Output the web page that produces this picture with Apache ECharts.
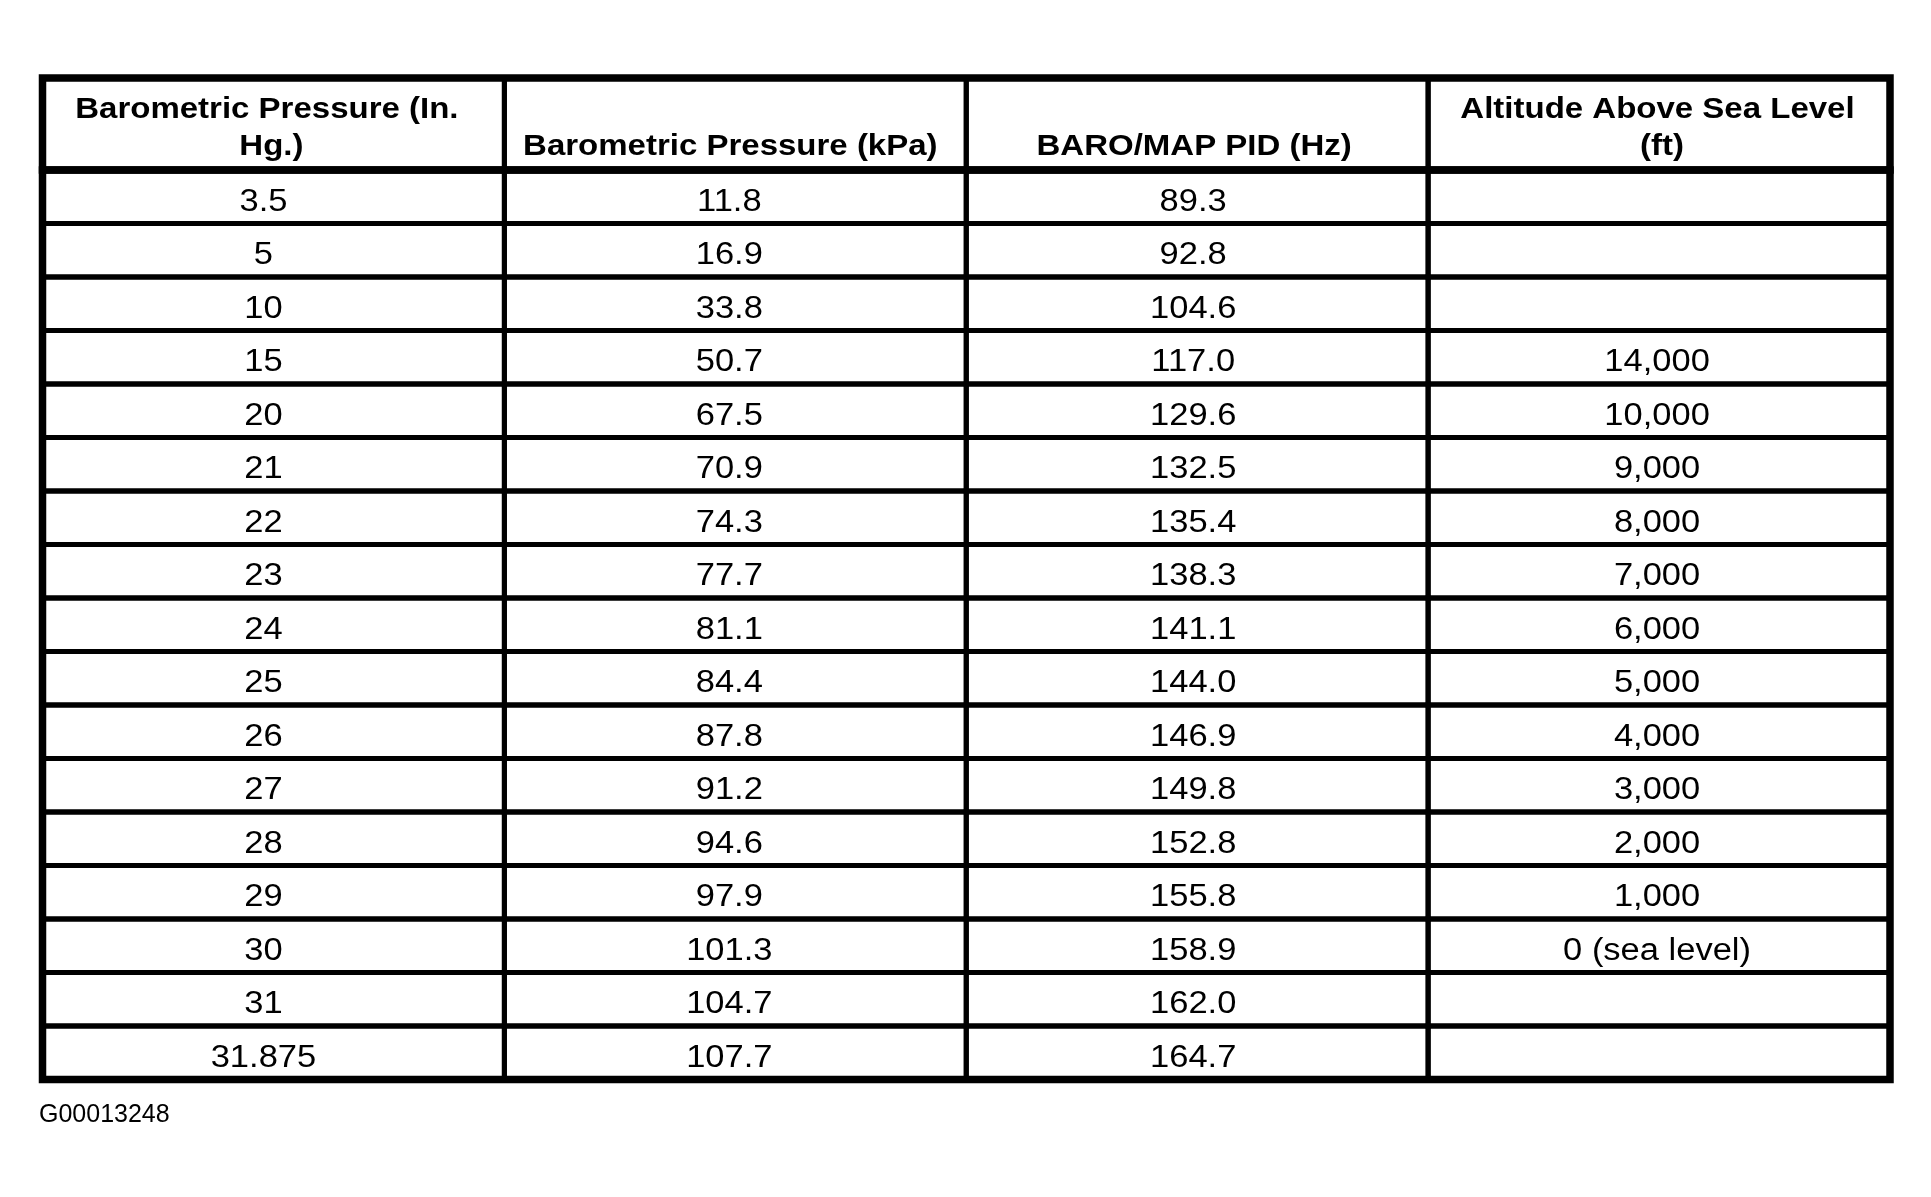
<!DOCTYPE html>
<html><head><meta charset="utf-8">
<script src="https://cdn.jsdelivr.net/npm/echarts@6/dist/echarts.min.js"></script>
<style>html,body{margin:0;padding:0;background:#fff}#c{width:1931px;height:1197px}</style>
</head><body><div id="c"></div>
<script>
// ---- data ----
const headers = ['Barometric Pressure (In. Hg.)', 'Barometric Pressure (kPa)', 'BARO/MAP PID (Hz)', 'Altitude Above Sea Level (ft)'];
const pressureInHg = ['3.5', '5', '10', '15', '20', '21', '22', '23', '24', '25', '26', '27', '28', '29', '30', '31', '31.875'];
const pressureKPa = ['11.8', '16.9', '33.8', '50.7', '67.5', '70.9', '74.3', '77.7', '81.1', '84.4', '87.8', '91.2', '94.6', '97.9', '101.3', '104.7', '107.7'];
const baroMapPidHz = ['89.3', '92.8', '104.6', '117.0', '129.6', '132.5', '135.4', '138.3', '141.1', '144.0', '146.9', '149.8', '152.8', '155.8', '158.9', '162.0', '164.7'];
const altitudeFt = ['', '', '', '14,000', '10,000', '9,000', '8,000', '7,000', '6,000', '5,000', '4,000', '3,000', '2,000', '1,000', '0 (sea level)', '', ''];
const figureId = 'G00013248';

// ---- build ----
const columns = [pressureInHg, pressureKPa, baroMapPidHz, altitudeFt];
const colCats = headers.map((h, i) => String(i));
const rowCats = pressureInHg.map((v, i) => String(i));
const bodyCells = [], bodyTexts = [];
columns.forEach((col, c) => col.forEach((v, r) => { bodyCells.push([c, r]); bodyTexts.push(v); }));
const headCells = headers.map((h, c) => [c, 0]);

const FONT = '"Liberation Sans", Arial, Helvetica, sans-serif';
const bodyShift = [-10, -6, -4, -2];
const headShift = [-2, -5, -3, 3];

function renderCell(texts, isHeader) {
  return function (params, api) {
    const c = api.value(0);
    const center = api.coord([c, api.value(1)]);
    const size = api.size([1, 1]);
    const w = size[0], h = size[1];
    const x0 = center[0] - w / 2, y0 = center[1] - h / 2;
    const txt = texts[params.dataIndex];
    const children = [{
      type: 'rect', shape: { x: x0, y: y0, width: w, height: h },
      style: { fill: null, stroke: '#000', lineWidth: 5 }
    }];
    if (isHeader) {
      children.push({
        type: 'text', x: center[0] + headShift[c], y: y0 + h - 5, scaleY: 0.88,
        style: {
          text: txt, x: 0, y: 0, align: 'center', verticalAlign: 'bottom',
          width: 430, overflow: 'break', lineHeight: 42,
          font: 'bold 33px ' + FONT, fill: '#000'
        }
      });
    } else if (txt) {
      children.push({
        type: 'text', x: center[0] + bodyShift[c], y: center[1] + 5.5, scaleY: 0.9,
        style: {
          text: txt, x: 0, y: 0, align: 'center', verticalAlign: 'middle',
          font: '34.5px ' + FONT, fill: '#000'
        }
      });
    }
    return { type: 'group', children };
  };
}

const axisHidden = { show: false };
const chart = echarts.init(document.getElementById('c'), null, { renderer: 'canvas' });
chart.setOption({
  animation: false,
  backgroundColor: '#fff',
  title: {
    text: figureId, left: 34, top: 1098,
    textStyle: { fontFamily: FONT, fontSize: 25, fontWeight: 'normal', color: '#000' }
  },
  grid: [
    { left: 42.5, right: 41, top: 78, height: 92, show: true, borderColor: '#000', borderWidth: 7.5, backgroundColor: 'transparent' },
    { left: 42.5, right: 41, top: 170, bottom: 117.5, show: true, borderColor: '#000', borderWidth: 7.5, backgroundColor: 'transparent' }
  ],
  xAxis: [
    { type: 'category', gridIndex: 0, data: colCats, ...axisHidden },
    { type: 'category', gridIndex: 1, data: colCats, ...axisHidden }
  ],
  yAxis: [
    { type: 'category', gridIndex: 0, data: ['h'], inverse: true, ...axisHidden },
    { type: 'category', gridIndex: 1, data: rowCats, inverse: true, ...axisHidden }
  ],
  series: [
    { type: 'custom', xAxisIndex: 0, yAxisIndex: 0, data: headCells, renderItem: renderCell(headers, true), silent: true },
    { type: 'custom', xAxisIndex: 1, yAxisIndex: 1, data: bodyCells, renderItem: renderCell(bodyTexts, false), silent: true }
  ]
});
</script>
</body></html>
